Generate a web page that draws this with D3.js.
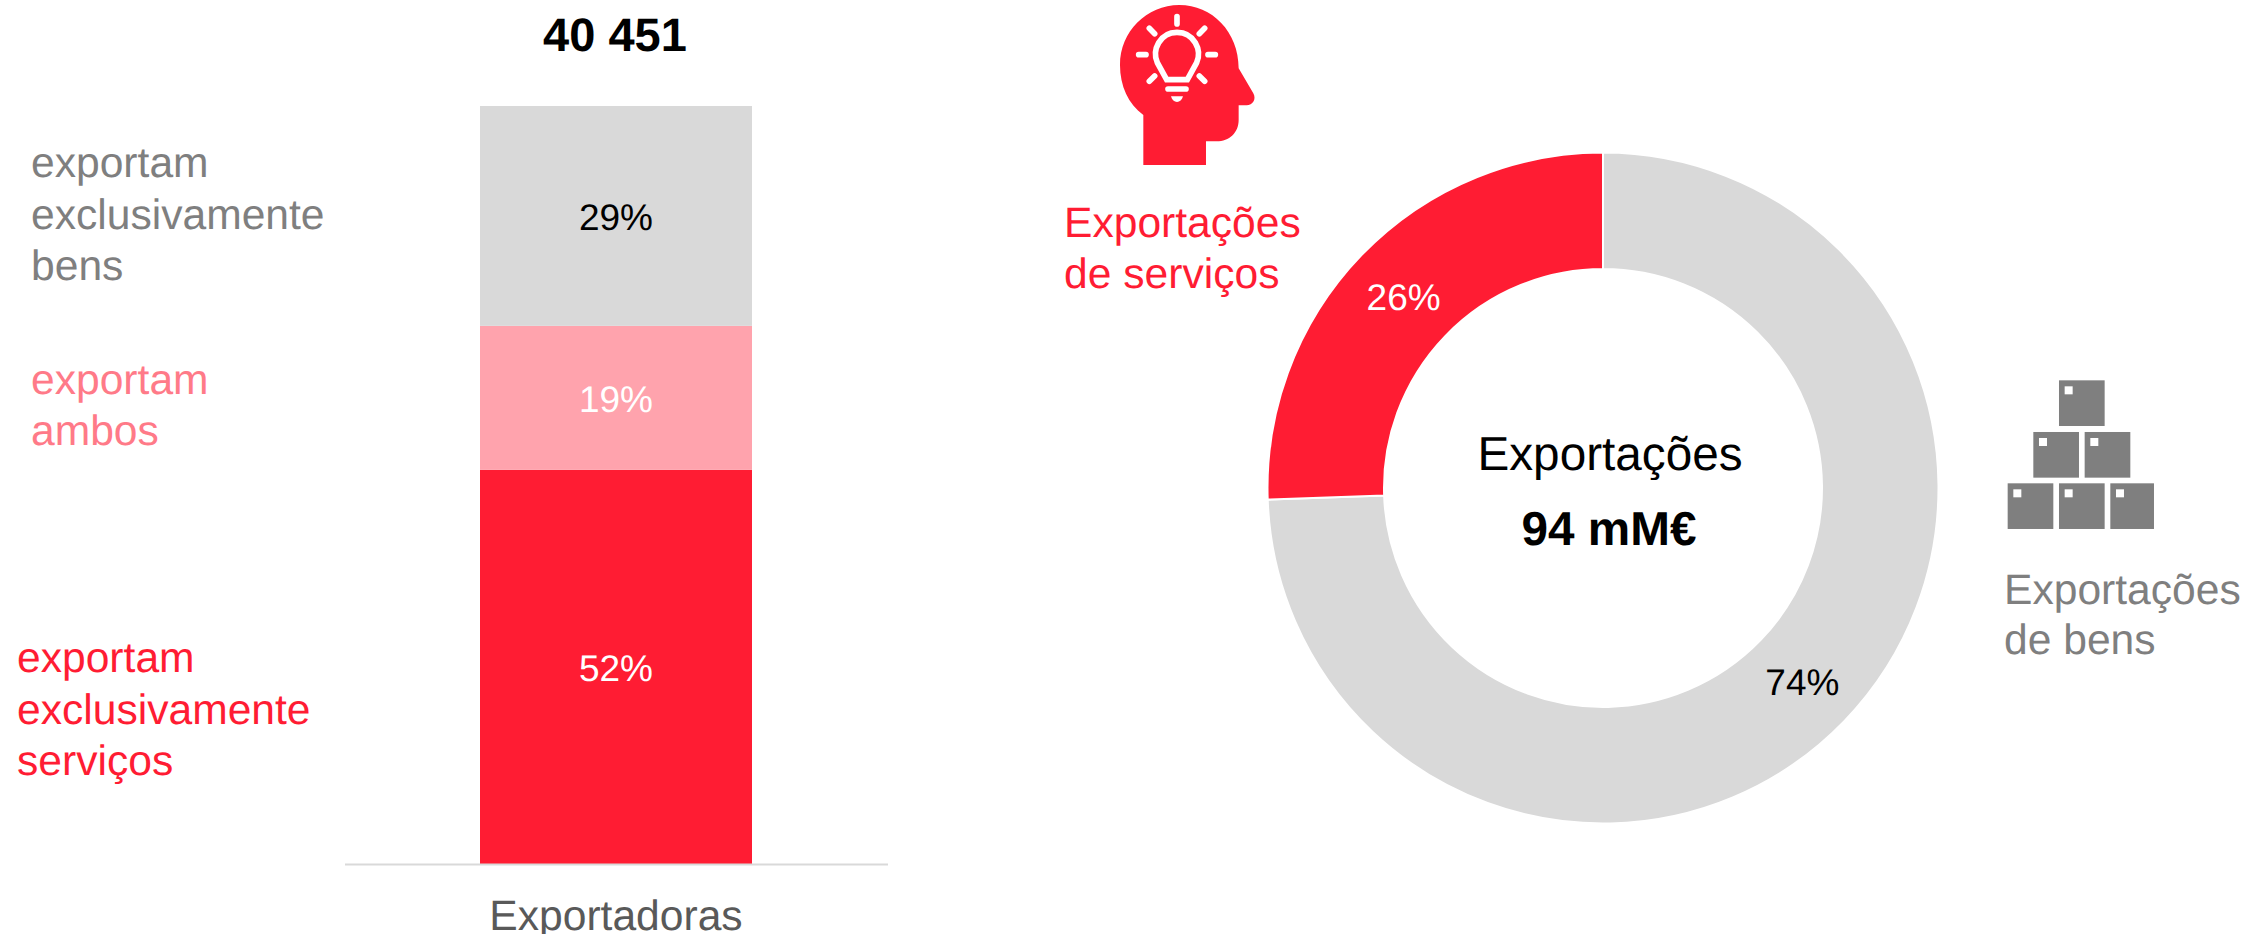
<!DOCTYPE html>
<html><head><meta charset="utf-8">
<style>html,body{margin:0;padding:0;background:#fff}svg{display:block}text{font-family:"Liberation Sans",Arial,sans-serif;text-rendering:geometricPrecision}</style>
<script src="https://cdn.jsdelivr.net/npm/d3@7"></script></head><body><div id="c"></div>
<script>
const barCategory = "Exportadoras";
const barTotal = "40 451";
const barKeys = ["serviços","ambos","bens"];
const barValues = [52,19,29];
const barColors = ["#FF1C33","#FFA3AD","#D9D9D9"];
const barLabelColors = ["#fff","#fff","#000"];
const donutKeys = ["bens","serviços"];
const donutValues = [74.45,25.55];
const donutColors = ["#D9D9D9","#FF1C33"];
const donutLabelColors = ["#000","#fff"];

const svg = d3.select("#c").append("svg").attr("width",2244).attr("height",934);
const FS = 42.6;

// stacked bar
const y = d3.scaleLinear().domain([0,100]).range([864,106]);
const barW = 272, bx = 616;
let acc = 0;
barValues.forEach((v,i)=>{
  const y0=y(acc), y1=y(acc+v); acc+=v;
  svg.append("rect").attr("x",bx-barW/2).attr("width",barW).attr("y",y1).attr("height",y0-y1).attr("fill",barColors[i]);
  svg.append("text").attr("x",bx).attr("y",(y0+y1)/2+14.5).attr("text-anchor","middle").attr("font-size",37).attr("fill",barLabelColors[i]).text(v+"%");
});
svg.append("line").attr("x1",345).attr("x2",888).attr("y1",864.5).attr("y2",864.5).attr("stroke","#D9D9D9").attr("stroke-width",2);
svg.append("text").attr("x",bx).attr("y",930).attr("text-anchor","middle").attr("font-size",FS).attr("fill","#595959").text(barCategory);
svg.append("text").attr("x",615).attr("y",51).attr("text-anchor","middle").attr("font-size",47).attr("font-weight","bold").attr("fill","#000").text(barTotal);

// left labels
function lines(xp,ys,arr,col,fs=FS){arr.forEach((t,i)=>svg.append("text").attr("x",xp).attr("y",ys[i]).attr("font-size",fs).attr("fill",col).text(t));}
lines(31,[177,229,280],["exportam","exclusivamente","bens"],"#7F7F7F");
lines(31,[394,445],["exportam","ambos"],"#FF7A88");
lines(17,[672,724,775],["exportam","exclusivamente","serviços"],"#FF1C33");

// donut
const cx=1603, cy=488;
const pie=d3.pie().sort(null).startAngle(0).endAngle(2*Math.PI);
const arc=d3.arc().innerRadius(219).outerRadius(335.5);
const g=svg.append("g").attr("transform",`translate(${cx},${cy})`);
const arcs=pie(donutValues);
g.selectAll("path").data(arcs).join("path").attr("d",arc).attr("fill",(d,i)=>donutColors[i]).attr("stroke","#fff").attr("stroke-width",2);
g.selectAll("text").data(arcs).join("text").attr("transform",(d)=>{const c=arc.centroid(d);return `translate(${c[0]},${c[1]+14.5})`;})
  .attr("text-anchor","middle").attr("font-size",37).attr("fill",(d,i)=>donutLabelColors[i]).text((d,i)=>Math.round(donutValues[i])+"%");
svg.append("text").attr("x",cx+7).attr("y",470).attr("text-anchor","middle").attr("font-size",47.7).attr("fill","#000").text("Exportações");
svg.append("text").attr("x",cx+6).attr("y",545).attr("text-anchor","middle").attr("font-size",47.7).attr("font-weight","bold").attr("fill","#000").text("94 mM€");

lines(1064,[237,288],["Exportações","de serviços"],"#FF1C33",FS);
lines(2004,[604,654],["Exportações","de bens"],"#7F7F7F",FS);

// head icon (decorative, zoom coordinates /3)
const head=svg.append("g").attr("transform","translate(1080,0) scale(0.3333)");
head.append("path").attr("fill","#FF1C33").attr("d","M190 495V345C145 312 120 258 120 195C120 95 200 15 298 15C396 15 476 95 476 205L520 280C530 298 518 316 500 316H476V360C476 398 448 424 410 424H378V495Z");
const w=head.append("g").attr("fill","none").attr("stroke","#fff").attr("stroke-linecap","round").attr("stroke-width",17);
w.append("path").attr("stroke-width",17).attr("stroke-linecap","butt").attr("d","M260 239L232 188C215 150 240 97 291 97C342 97 367 150 350 188L322 239Z");
[[291,50,291,72],[208,85,224,101],[374,85,358,101],[176,164,198,164],[384,164,406,164],[208,244,224,228],[374,244,358,228],[264,267,318,267]].forEach(a=>w.append("line").attr("x1",a[0]).attr("y1",a[1]).attr("x2",a[2]).attr("y2",a[3]));
head.append("path").attr("fill","#fff").attr("d","M273 289H309C306 300 299 306 291 306C283 306 276 300 273 289Z");

// boxes icon
const boxes=[[237,61],[160,216],[314,216],[83,370],[237,370],[391,370]];
const bg=svg.append("g").attr("transform","translate(1980,360) scale(0.3333)");
boxes.forEach(b=>{
  bg.append("rect").attr("x",b[0]).attr("y",b[1]).attr("width",b[0]==391?131:137).attr("height",137).attr("fill","#7F7F7F");
  bg.append("rect").attr("x",b[0]+17).attr("y",b[1]+18).attr("width",24).attr("height",24).attr("fill","#fff");
});
</script></body></html>
